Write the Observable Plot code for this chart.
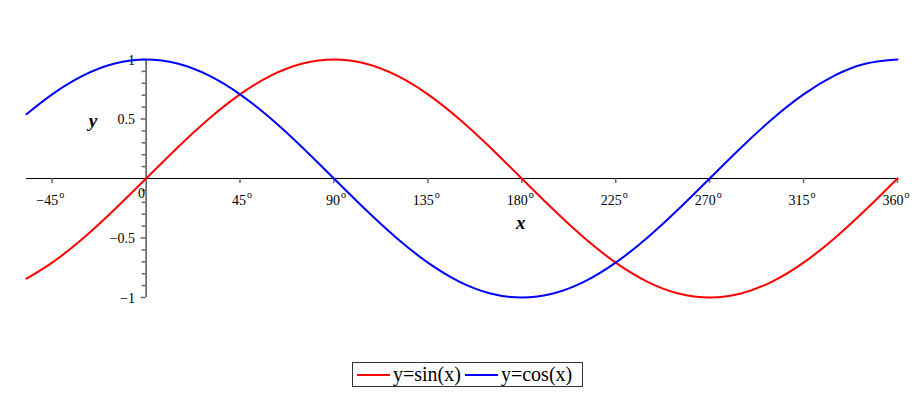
<!DOCTYPE html>
<html>
<head>
<meta charset="utf-8">
<script src="https://cdn.jsdelivr.net/npm/d3@7"></script>
<script src="https://cdn.jsdelivr.net/npm/@observablehq/plot@0.6"></script>
<style>
  html, body { margin: 0; padding: 0; background: #fff; }
  #wrap { position: relative; width: 921px; height: 404px; }
  #legend {
    position: absolute; left: 352px; top: 362px; width: 229px; height: 23px;
    border: 1px solid #333; display: flex; align-items: center; white-space: nowrap;
    font-family: "Liberation Serif", serif; font-size: 20px; color: #000; box-sizing: content-box;
  }
  .sw { display: inline-block; width: 33px; height: 2px; margin: 0 3px 0 4px; }
</style>
</head>
<body>
<div id="wrap">
  <div id="chart"></div>
  <div id="legend">
    <span class="sw" style="background:#ff0000"></span><span>y=sin(x)</span>
    <span class="sw" style="background:#0000ff"></span><span>y=cos(x)</span>
  </div>
</div>
<script>
const xDeg = [-57.3, -45, -30, -15, 0, 15, 30, 45, 60, 75, 90, 105, 120, 135, 150, 165, 180,
  195, 210, 225, 240, 255, 270, 285, 300, 315, 330, 345, 360];
const sinVals = [-0.841, -0.707, -0.5, -0.259, 0, 0.259, 0.5, 0.707, 0.866, 0.966, 1, 0.966, 0.866, 0.707, 0.5, 0.259, 0,
  -0.259, -0.5, -0.707, -0.866, -0.966, -1, -0.966, -0.866, -0.707, -0.5, -0.259, 0];
const cosVals = [0.540, 0.707, 0.866, 0.966, 1, 0.966, 0.866, 0.707, 0.5, 0.259, 0, -0.259, -0.5, -0.707, -0.866, -0.966, -1,
  -0.966, -0.866, -0.707, -0.5, -0.259, 0, 0.259, 0.5, 0.707, 0.866, 0.966, 1];
const xTicks = [-45, 45, 90, 135, 180, 225, 270, 315, 360];
const xTickLabels = ["\u221245", "45", "90", "135", "180", "225", "270", "315", "360"];
const yMajor = [-1, -0.5, 0.5, 1];
const yMajorLabels = ["\u22121", "\u22120.5", "0.5", "1"];
const yMinor = [-0.9, -0.8, -0.7, -0.6, -0.4, -0.3, -0.2, -0.1, 0.1, 0.2, 0.3, 0.4, 0.6, 0.7, 0.8, 0.9];

const sinData = xDeg.map((x, i) => ({x, y: sinVals[i]}));
const cosData = xDeg.map((x, i) => ({x, y: cosVals[i]}));
const xLab = xTicks.map((t, i) => ({t, s: xTickLabels[i]}));
const yLab = yMajor.map((t, i) => ({t, s: yMajorLabels[i]}));

const serif = "Liberation Serif, Times New Roman, serif";

const chart = Plot.plot({
  width: 921,
  height: 350,
  marginLeft: 26,
  marginRight: 24,
  marginTop: 59,
  marginBottom: 53,
  x: {domain: [-57.2958, 360], axis: null},
  y: {domain: [-1, 1], axis: null},
  style: {fontFamily: serif, background: "white"},
  marks: [
    Plot.ruleY([0], {stroke: "#000", strokeWidth: 1}),
    Plot.ruleX([0], {stroke: "#000", strokeWidth: 1}),
    Plot.ruleX(xTicks, {x: d => d, y1: 0, y2: -0.042, stroke: "#666", strokeWidth: 1.5}),
    Plot.ruleY(yMinor, {y: d => d, x1: 0, x2: -1.9, stroke: "#666", strokeWidth: 1.5}),
    Plot.ruleY(yMajor, {y: d => d, x1: 0, x2: -2.4, stroke: "#666", strokeWidth: 1.5}),
    Plot.text(xLab, {x: "t", y: 0, text: "s", textAnchor: "end", dx: 6, dy: 22, fontSize: 14, fill: "#000"}),
    Plot.text(xLab, {x: "t", y: 0, text: () => "o", textAnchor: "start", dx: 7, dy: 16, fontSize: 10, fill: "#000"}),
    Plot.text(yLab, {x: 0, y: "t", text: "s", textAnchor: "end", dx: -11, dy: 1, fontSize: 14, fill: "#000"}),
    Plot.text(["0"], {x: 0, y: 0, text: d => d, textAnchor: "end", dx: -1, dy: 15, fontSize: 14, fill: "#000"}),
    Plot.text(["y"], {x: -25.4, y: 0.48, text: d => d, fontSize: 19, fontStyle: "italic", fontWeight: "bold", fill: "#000"}),
    Plot.text(["x"], {x: 179.5, y: -0.37, text: d => d, fontSize: 19, fontStyle: "italic", fontWeight: "bold", fill: "#000"}),
    Plot.line(sinData, {x: "x", y: "y", stroke: "#ff0000", strokeWidth: 2, curve: "natural"}),
    Plot.line(cosData, {x: "x", y: "y", stroke: "#0000ff", strokeWidth: 2, curve: "natural"})
  ]
});
document.getElementById("chart").appendChild(chart);
</script>
</body>
</html>
